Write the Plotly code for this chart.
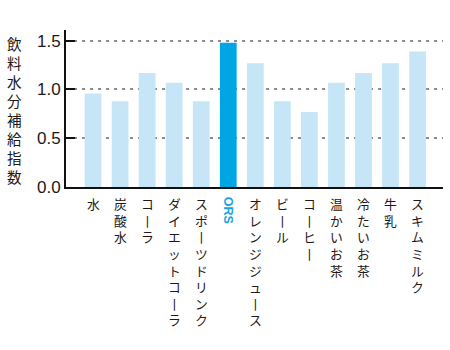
import plotly.graph_objects as go

categories = ["水", "炭酸水", "コーラ", "ダイエットコーラ", "スポーツドリンク", "ORS",
              "オレンジジュース", "ビール", "コーヒー", "温かいお茶", "冷たいお茶", "牛乳", "スキムミルク"]
values = [0.96, 0.88, 1.17, 1.07, 0.88, 1.48, 1.27, 0.88, 0.77, 1.07, 1.17, 1.27, 1.39]
highlight = "ORS"
y_title = "飲料水分補給指数"
y_ticks = [0.0, 0.5, 1.0, 1.5]
y_ticktext = ["0.0", "0.5", "1.0", "1.5"]

LIGHT = "#c6e6f8"
BLUE = "#00a6e4"
TEXT = "#231815"
CJK = "Liberation Sans, Noto Sans CJK JP"

colors = [BLUE if c == highlight else LIGHT for c in categories]
x_idx = list(range(len(categories)))

fig = go.Figure(go.Bar(x=x_idx, y=values, marker=dict(color=colors, line=dict(width=0)),
                       width=0.62))


def vertical(s):
    return "<br>".join("丨" if ch == "ー" else ch for ch in s)


annotations = []
for i, c in enumerate(categories):
    if c == highlight:
        annotations.append(dict(x=i, y=0, xref="x", yref="paper", text="<b>%s</b>" % c,
                                textangle=90, showarrow=False, yanchor="middle", xanchor="center",
                                yshift=-23, font=dict(family="Liberation Sans", size=12.5, color="#1aa3e0")))
        continue
    annotations.append(dict(x=i, y=0, xref="x", yref="paper", text=vertical(c),
                            showarrow=False, yanchor="top", xanchor="center", yshift=-8,
                            font=dict(family=CJK, size=12.8, color=TEXT)))

annotations.append(dict(x=0, y=0.48, xref="paper", yref="paper", text="<br>".join(y_title),
                        showarrow=False, xanchor="center", yanchor="middle", xshift=-52,
                        font=dict(family=CJK, size=14.6, color=TEXT)))

fig.update_layout(
    width=450, height=350,
    margin=dict(l=66, r=7, t=30, b=163),
    plot_bgcolor="white", paper_bgcolor="white",
    showlegend=False,
    annotations=annotations,
    xaxis=dict(range=[-1.0, 12.94], showticklabels=False, ticks="", showgrid=False,
               showline=True, linecolor="#111111", linewidth=2, zeroline=False, fixedrange=True),
    yaxis=dict(range=[0, 1.61], tickvals=y_ticks, ticktext=y_ticktext,
               ticks="inside", ticklen=9, tickwidth=1.5, tickcolor="#111111",
               showline=True, linecolor="#111111", linewidth=1.8,
               showgrid=True, gridcolor="#8c8c8c", gridwidth=1.5, griddash="3px,5px",
               zeroline=False, tickfont=dict(family="Liberation Sans", size=17, color=TEXT),
               fixedrange=True),
)

fig.write_html("out.html", config={"displayModeBar": False})
